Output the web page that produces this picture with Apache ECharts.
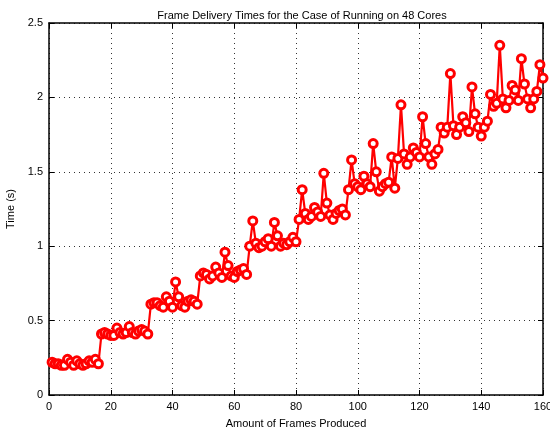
<!DOCTYPE html>
<html><head><meta charset="utf-8">
<script src="https://cdn.jsdelivr.net/npm/echarts@6/dist/echarts.min.js"></script>
<style>html,body{margin:0;padding:0;background:#fff}#c{width:550px;height:427px}</style>
</head><body><div id="c"></div>
<script>
const titleText = "Frame Delivery Times for the Case of Running on 48 Cores";
const xLabel = "Amount of Frames Produced";
const yLabel = "Time (s)";
const xTicks = [0, 20, 40, 60, 80, 100, 120, 140, 160];
const yTicks = [0, 0.5, 1, 1.5, 2, 2.5];
// frame numbers 1..160
const frames = [];
for (let i = 1; i <= 160; i++) frames.push(i);
const times = [
  0.22, 0.21, 0.21, 0.20, 0.20, 0.24, 0.22, 0.20, 0.23, 0.21, 0.20, 0.21, 0.23, 0.22, 0.24, 0.21,
  0.41, 0.42, 0.41, 0.40, 0.40, 0.45, 0.42, 0.41, 0.42, 0.46, 0.42, 0.41, 0.43, 0.44, 0.43, 0.41,
  0.61, 0.62, 0.62, 0.60, 0.59, 0.66, 0.63, 0.59, 0.76, 0.66, 0.60, 0.59, 0.63, 0.64, 0.63, 0.61,
  0.80, 0.82, 0.81, 0.78, 0.80, 0.86, 0.82, 0.79, 0.96, 0.87, 0.80, 0.79, 0.83, 0.84, 0.85, 0.81,
  1.00, 1.17, 1.02, 0.99, 1.00, 1.03, 1.05, 1.00, 1.16, 1.07, 1.00, 1.02, 1.01, 1.03, 1.06, 1.03,
  1.18, 1.38, 1.22, 1.18, 1.20, 1.26, 1.23, 1.20, 1.49, 1.29, 1.21, 1.18, 1.22, 1.24, 1.25, 1.21,
  1.38, 1.58, 1.42, 1.40, 1.38, 1.47, 1.42, 1.40, 1.69, 1.50, 1.37, 1.40, 1.42, 1.43, 1.60, 1.39,
  1.59, 1.95, 1.62, 1.55, 1.60, 1.66, 1.63, 1.60, 1.87, 1.69, 1.60, 1.55, 1.62, 1.65, 1.80, 1.76,
  1.80, 2.16, 1.81, 1.75, 1.80, 1.87, 1.83, 1.77, 2.07, 1.89, 1.80, 1.74, 1.80, 1.84, 2.02, 1.94,
  1.96, 2.35, 1.99, 1.93, 1.98, 2.08, 2.05, 1.98, 2.26, 2.09, 1.99, 1.93, 1.99, 2.04, 2.22, 2.13
];
const font = "'Liberation Sans', Arial, Helvetica, sans-serif";
const chart = echarts.init(document.getElementById('c'), null, {renderer: 'canvas'});
const axisCommon = {
  axisLine: {show: true, onZero: false, lineStyle: {color: '#000', width: 1.5}},
  axisTick: {show: true, inside: true, length: 5, lineStyle: {color: '#000', width: 1}},
};
chart.setOption({
  animation: false,
  backgroundColor: '#fff',
  title: {text: titleText, left: 297, top: 5, textAlign: 'center',
    textStyle: {fontFamily: font, fontSize: 11, fontWeight: 'normal', color: '#000'}},
  grid: {left: 49, right: 7, top: 23, bottom: 32, containLabel: false, outerBoundsMode: 'none'},
  xAxis: [
    Object.assign({type: 'value', min: xTicks[0], max: xTicks[xTicks.length-1], interval: 20,
      name: xLabel, nameLocation: 'middle', nameGap: 23,
      nameTextStyle: {fontFamily: font, fontSize: 11, color: '#000'},
      axisLabel: {fontFamily: font, fontSize: 11, color: '#000', margin: 6},
      splitLine: {show: true, lineStyle: {color: '#333', type: [1, 4], width: 1}}}, axisCommon),
    Object.assign({type: 'value', position: 'top', min: 0, max: 160, interval: 20,
      axisLabel: {show: false}, splitLine: {show: false}}, axisCommon)
  ],
  yAxis: [
    Object.assign({type: 'value', min: yTicks[0], max: yTicks[yTicks.length-1], interval: 0.5,
      name: yLabel, nameLocation: 'middle', nameGap: 25,
      nameTextStyle: {fontFamily: font, fontSize: 11, color: '#000'},
      axisLabel: {fontFamily: font, fontSize: 11, color: '#000', margin: 6},
      splitLine: {show: true, lineStyle: {color: '#333', type: [1, 4], width: 1}}}, axisCommon),
    Object.assign({type: 'value', position: 'right', min: 0, max: 2.5, interval: 0.5,
      axisLabel: {show: false}, splitLine: {show: false}}, axisCommon)
  ],
  series: [{
    type: 'line',
    data: frames.map((f, i) => [f, times[i]]),
    symbol: 'circle', symbolSize: 8,
    itemStyle: {color: '#fff', borderColor: '#ff0000', borderWidth: 3},
    lineStyle: {color: '#ff0000', width: 2.2},
    clip: false
  }]
});
</script></body></html>
